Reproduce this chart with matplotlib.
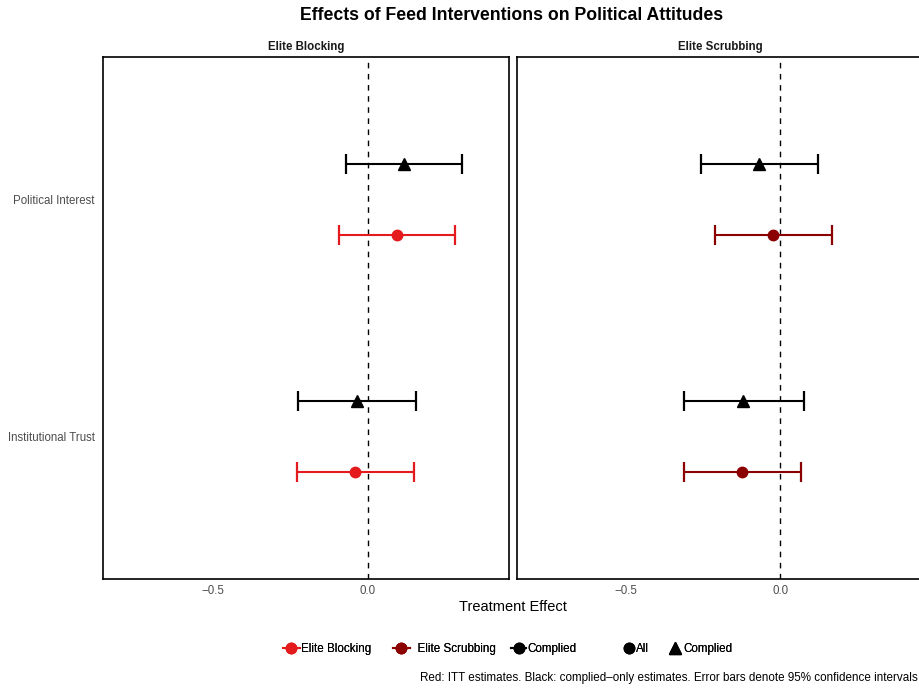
import numpy as np
import matplotlib.pyplot as plt
from matplotlib.lines import Line2D

plt.rcParams['font.family'] = ['Liberation Sans', 'DejaVu Sans']

# outcomes, top to bottom
outcomes = ["Political Interest", "Institutional Trust"]
panels = ["Elite Blocking", "Elite Scrubbing"]

# Elite Blocking: ITT and complied-only estimates with 95% CI
block_itt = [0.094, -0.042]
block_itt_lo = [-0.094, -0.229]
block_itt_hi = [0.281, 0.148]
block_comp = [0.116, -0.035]
block_comp_lo = [-0.071, -0.226]
block_comp_hi = [0.303, 0.155]

# Elite Scrubbing
scrub_itt = [-0.023, -0.123]
scrub_itt_lo = [-0.211, -0.312]
scrub_itt_hi = [0.169, 0.068]
scrub_comp = [-0.068, -0.120]
scrub_comp_lo = [-0.256, -0.312]
scrub_comp_hi = [0.123, 0.078]

col_block = "#E41A1C"
col_scrub = "#8B0000"
col_comp = "black"
grey_txt = "#4D4D4D"

W, H = 920, 689
fig = plt.figure(figsize=(W / 100, H / 100), dpi=100)

def px_axes(x0, y0, x1, y1):
    return fig.add_axes([x0 / W, 1 - y1 / H, (x1 - x0) / W, (y1 - y0) / H])

ax1 = px_axes(103, 57, 509, 579)
ax2 = px_axes(517, 57, 927, 579)

ypos = np.array([2.0, 1.0])
dodge = 0.15

def draw_panel(ax, title, itt, itt_lo, itt_hi, comp, comp_lo, comp_hi, col, xr):
    ax.axvline(0, color="black", lw=1.0, ls=(0, (4, 4)), zorder=1)
    itt = np.array(itt)
    comp = np.array(comp)
    ax.errorbar(comp, ypos + dodge,
                xerr=[comp - np.array(comp_lo), np.array(comp_hi) - comp],
                fmt="^", color=col_comp, ms=9, lw=1.5, capsize=7.5, capthick=1.6, zorder=3)
    ax.errorbar(itt, ypos - dodge,
                xerr=[itt - np.array(itt_lo), np.array(itt_hi) - itt],
                fmt="o", color=col, ms=7.5, lw=1.5, capsize=7.5, capthick=1.6, zorder=3)
    ax.set_xlim(-0.855, xr)
    ax.set_ylim(0.4, 2.6)
    ax.set_xticks([-0.5, 0.0])
    ax.set_xticklabels(["\u22120.5", "0.0"])
    ax.tick_params(length=0, labelsize=8.3, labelcolor=grey_txt)
    ax.tick_params(axis="x", pad=4)
    ax.tick_params(axis="y", pad=6)
    for s in ax.spines.values():
        s.set_linewidth(1.2)
        s.set_color("black")

draw_panel(ax1, panels[0], block_itt, block_itt_lo, block_itt_hi,
           block_comp, block_comp_lo, block_comp_hi, col_block, 0.455)
draw_panel(ax2, panels[1], scrub_itt, scrub_itt_lo, scrub_itt_hi,
           scrub_comp, scrub_comp_lo, scrub_comp_hi, col_scrub, -0.855 + 410 / 308)
ax1.set_title(panels[0], fontsize=8.3, fontweight="bold", color="#1A1A1A", pad=5)
ax2.set_title(panels[1], fontsize=8.3, fontweight="bold", color="#1A1A1A", pad=5,
              x=(720 - 517) / 410)
ax2.spines["right"].set_visible(False)

ax1.set_yticks(ypos)
ax1.set_yticklabels(outcomes)
ax2.set_yticks([])

fig.text(512 / W, 1 - 15 / H, "Effects of Feed Interventions on Political Attitudes",
         ha="center", va="center", fontsize=12.7, fontweight="bold")
fig.text(513 / W, 1 - 607 / H, "Treatment Effect", ha="center", va="center", fontsize=10.5)
fig.text(918 / W, 1 - 678 / H,
         "Red: ITT estimates. Black: complied\u2013only estimates. Error bars denote 95% confidence intervals",
         ha="right", va="center", fontsize=8.4)

# legend entries: one small legend per key so each sits at its own x
leg_items = [
    (283, Line2D([], [], color=col_block, marker="o", ms=7.5, lw=1.5), "Elite Blocking", 1.45),
    (393, Line2D([], [], color=col_scrub, marker="o", ms=7.5, lw=1.5), "  Elite Scrubbing", 1.45),
    (511, Line2D([], [], color=col_comp, marker="o", ms=7.5, lw=1.5), "Complied", 1.3),
    (623, Line2D([], [], color="black", marker="o", ls="none", ms=7.5), "All", 1.05),
    (669, Line2D([], [], color="black", marker="^", ls="none", ms=9), "Complied", 1.1),
]
for x0, h, lab, hl in leg_items:
    leg = fig.legend([h], [lab], loc="center left", bbox_to_anchor=(x0 / W, 1 - 649 / H),
                     frameon=False, fontsize=8.4, handlelength=hl, handletextpad=0.1,
                     borderaxespad=0, borderpad=0)
    fig.add_artist(leg)

fig.savefig("out.png", dpi=100)
